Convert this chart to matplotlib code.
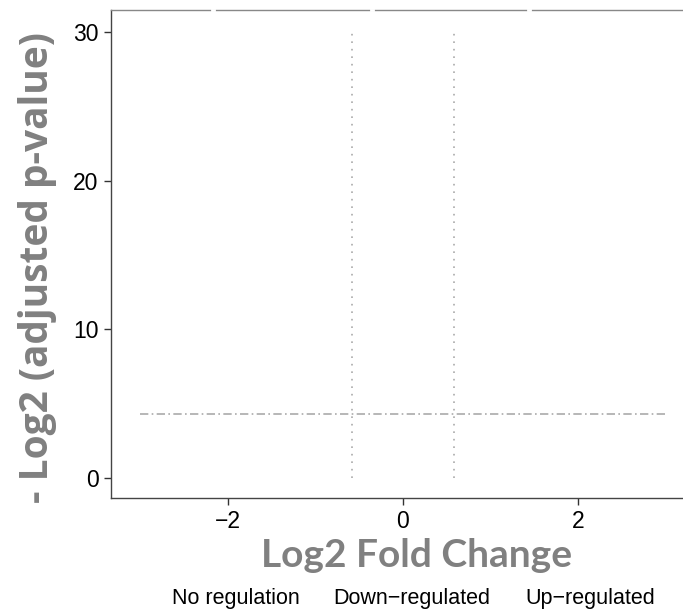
import matplotlib
matplotlib.use("Agg")
import matplotlib.pyplot as plt
from matplotlib.lines import Line2D
import numpy as np

# data
fc_threshold = np.log2(1.5)
p_threshold = -np.log2(0.05)
vline_ymax = 30
hline_xrange = [-3, 3]
x_ticks = [-2, 0, 2]
y_ticks = [0, 10, 20, 30]
legend_labels = ["No regulation", "Down\u2212regulated", "Up\u2212regulated"]

fig = plt.figure(figsize=(6.83, 6.11), dpi=100)
ax = fig.add_axes([111/683, (611-498)/611, (683-111)/683, (498-10)/611])
ax.set_xlim(-3.337, 3.2)
ax.set_ylim(-1.345, 31.47)

for xv in [-fc_threshold, fc_threshold]:
    ax.plot([xv, xv], [0, vline_ymax], color="#aaaaaa", lw=1.2, linestyle=(0, (1, 3.5)))
ax.plot(hline_xrange, [p_threshold, p_threshold], color="#aaaaaa", lw=1.2,
        linestyle=(0, (5, 2, 1, 2)))

ax.spines["right"].set_visible(False)
for s in ["left", "bottom", "top"]:
    ax.spines[s].set_color("#444444")
    ax.spines[s].set_linewidth(1.0)
ax.spines["top"].set_color("#888888")

# small white breaks in top border
for fx in [(213-111)/572, (372-111)/572, (529-111)/572]:
    ax.plot([fx - 0.002, fx + 0.002], [1, 1], transform=ax.transAxes, color="white",
            lw=2, clip_on=False, zorder=5)

ax.set_xticks(x_ticks)
ax.set_yticks(y_ticks)
ax.set_xticklabels([f"\u2212{abs(t)}" if t < 0 else str(t) for t in x_ticks])
ax.tick_params(axis="both", labelsize=16.5, colors="#333333", labelcolor="black",
               length=5, width=1, direction="out", pad=4)
for lab in ax.get_xticklabels() + ax.get_yticklabels():
    lab.set_family("Liberation Sans")

ax.set_xlabel("Log2 Fold Change", fontsize=28, fontweight="bold", color="#808080",
              family="Lato")
ax.xaxis.set_label_coords(0.535, -0.082)
ax.set_ylabel("- Log2 (adjusted p-value)", fontsize=28, fontweight="bold", color="#808080",
              family="Open Sans")
ax.yaxis.set_label_coords(-0.094, 0.473)

handles = [Line2D([], [], linestyle="none", marker=None) for _ in legend_labels]
leg = fig.legend(handles, legend_labels, loc="lower center", bbox_to_anchor=(0.605, -0.028),
                 ncol=3, frameon=False, handlelength=0, handletextpad=0, columnspacing=1.6,
                 prop={"family": "Liberation Sans", "size": 15.5})

fig.savefig("out.png", dpi=100)
